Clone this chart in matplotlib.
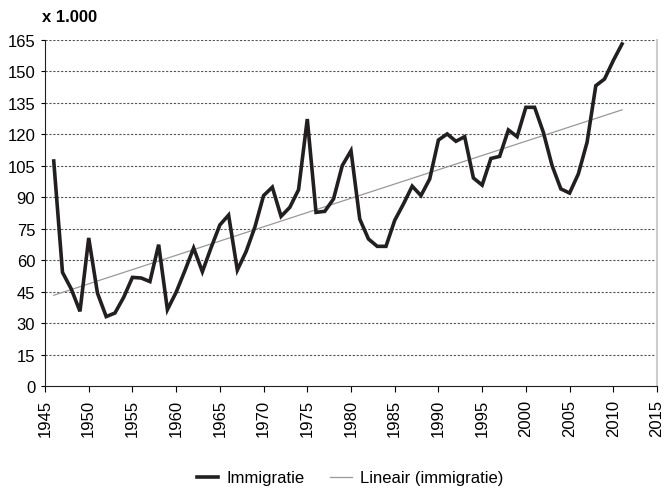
import numpy as np
import matplotlib
matplotlib.use("Agg")
import matplotlib.pyplot as plt

years = list(range(1946, 2012))
immigratie = [107.3, 54.2, 46.3, 35.6, 70.6, 44.3, 33.1, 34.8, 42.3, 51.8,
              51.5, 49.8, 67.4, 36.4, 44.7, 55.0, 65.8, 54.5, 66.0, 76.8,
              81.5, 55.3, 64.1, 75.7, 90.8, 94.8, 80.9, 85.2, 93.6, 127.3,
              82.8, 83.3, 89.2, 105.1, 112.2, 79.6, 70.1, 66.6, 66.6, 79.0,
              86.8, 95.3, 90.8, 98.7, 117.3, 120.2, 116.7, 118.9, 99.2, 95.8,
              108.5, 109.5, 122.1, 118.9, 132.9, 132.9, 121.0, 105.1, 94.0, 92.0,
              101.1, 116.2, 143.2, 146.4, 155.2, 163.1]
yticks = list(range(0, 166, 15))
xticks = list(range(1945, 2016, 5))

plt.rcParams['font.family'] = ['Liberation Sans', 'DejaVu Sans']

fig = plt.figure(figsize=(6.65, 4.89), dpi=100)
ax = fig.add_axes([45/665, 1-387/489, (657-45)/665, (387-41)/489])

x = np.array(years)
y = np.array(immigratie)
coef = np.polyfit(x, y, 1)
trend = np.polyval(coef, x)

for v in yticks[1:]:
    ax.axhline(v, color='#555555', lw=0.8, ls=(0, (2, 1.5)), zorder=1)

ax.plot(x, y, color='#231f20', lw=2.6, solid_joinstyle='miter', zorder=3, label='Immigratie')
ax.plot(x, trend, color='#999999', lw=0.9, zorder=2, label='Lineair (immigratie)')

ax.set_xlim(1945, 2015)
ax.set_ylim(0, 165)
ax.set_xticks(xticks)
ax.set_yticks(yticks)
ax.set_xticklabels([str(t) for t in xticks], rotation=90, fontsize=12)
ax.set_yticklabels([str(t) for t in yticks], fontsize=12)
ax.tick_params(axis='x', direction='out', length=4, width=0.8, pad=5)
ax.tick_params(axis='y', direction='out', length=3, width=0.8, pad=4)
ax.spines['top'].set_visible(False)
ax.spines['right'].set_color('#cccccc')
ax.spines['right'].set_linewidth(1.5)
ax.spines['left'].set_color('#231f20')
ax.spines['bottom'].set_color('#231f20')

fig.text(42/665, 1-17/489, 'x 1.000', fontsize=12, fontweight='bold', va='center', ha='left')

leg = fig.legend(loc='center', bbox_to_anchor=(350/665, 1-479/489), ncol=2, frameon=False,
                 fontsize=12, handlelength=1.3, columnspacing=1.5, handletextpad=0.5,
                 borderpad=0, borderaxespad=0)

fig.savefig('out.png', dpi=100)
